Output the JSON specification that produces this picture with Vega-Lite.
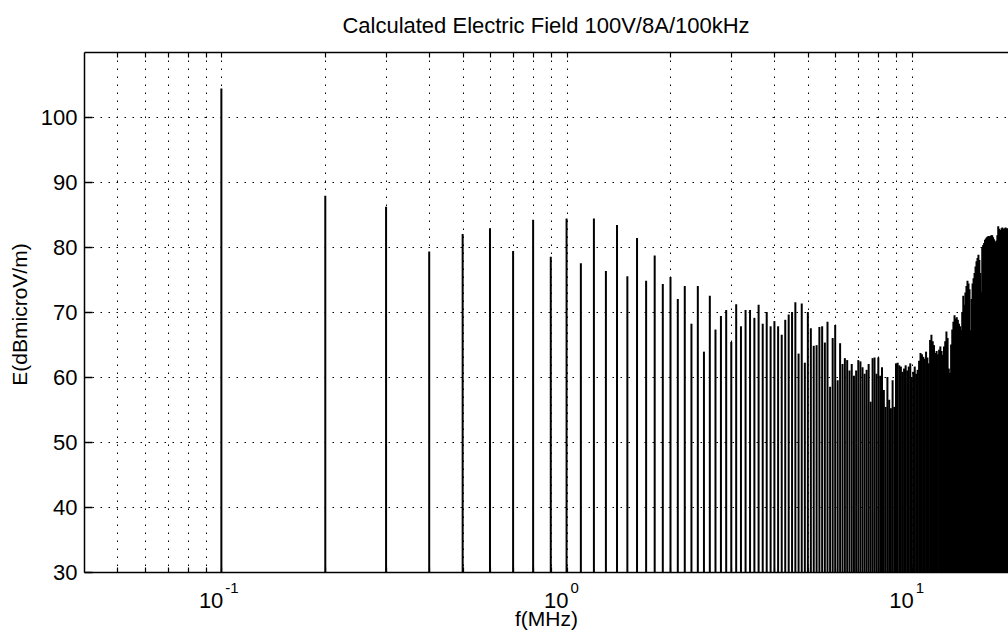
{
  "$schema": "https://vega.github.io/schema/vega-lite/v6.json",
  "width": 924,
  "height": 520,
  "autosize": {"type": "none"},
  "padding": {"left": 84, "top": 52, "right": 0, "bottom": 62},
  "background": "white",
  "config": {"view": {"stroke": null}, "font": "Liberation Sans"},
  "title": {"text": "Calculated Electric Field 100V/8A/100kHz", "fontSize": 22, "font": "Liberation Sans", "fontWeight": "normal", "color": "black", "baseline": "alphabetic", "offset": 20, "dy": 24, "anchor": "middle", "frame": "group"},
  "resolve": {"axis": {"x": "independent", "y": "independent"}},
  "layer": [
    {
      "data": {"values": [
        {"f":0.1,"E":104.4},{"f":0.2,"E":87.9},{"f":0.3,"E":86.2},{"f":0.4,"E":79.3},{"f":0.5,"E":82.0},
        {"f":0.6,"E":82.9},{"f":0.7,"E":79.4},{"f":0.8,"E":84.2},{"f":0.9,"E":78.5},{"f":1.0,"E":84.4},
        {"f":1.1,"E":77.5},{"f":1.2,"E":84.4},{"f":1.3,"E":76.3},{"f":1.4,"E":83.4},{"f":1.5,"E":75.5},
        {"f":1.6,"E":81.4},{"f":1.7,"E":74.8},{"f":1.8,"E":78.7},{"f":1.9,"E":74.3},{"f":2.0,"E":75.4},
        {"f":2.1,"E":72.0},{"f":2.2,"E":74.0},{"f":2.3,"E":68.2},{"f":2.4,"E":74.0},{"f":2.5,"E":63.9},
        {"f":2.6,"E":72.5},{"f":2.7,"E":67.3},{"f":2.8,"E":69.4},{"f":2.9,"E":70.3},{"f":3.0,"E":65.4},
        {"f":3.1,"E":71.2},{"f":3.2,"E":67.8},{"f":3.3,"E":70.3},{"f":3.4,"E":70.3},{"f":3.5,"E":69.1},
        {"f":3.6,"E":71.1},{"f":3.7,"E":68.2},{"f":3.8,"E":70.0},{"f":3.9,"E":67.8},{"f":4.0,"E":68.6},
        {"f":4.1,"E":67.8},{"f":4.2,"E":66.5},{"f":4.3,"E":68.8},{"f":4.4,"E":69.6},{"f":4.5,"E":70.0},
        {"f":4.6,"E":71.5},{"f":4.7,"E":63.6},{"f":4.8,"E":71.3},{"f":4.9,"E":62.2},{"f":5.0,"E":70.0},
        {"f":5.1,"E":67.5},{"f":5.2,"E":64.8},{"f":5.3,"E":64.9},{"f":5.4,"E":67.7},{"f":5.5,"E":67.8},
        {"f":5.6,"E":65.3},{"f":5.7,"E":68.5},{"f":5.8,"E":58.5},{"f":5.9,"E":66.0},{"f":6.0,"E":68.0},
        {"f":6.1,"E":59.5},{"f":6.2,"E":65.2},{"f":6.3,"E":62.0},{"f":6.4,"E":62.9},{"f":6.5,"E":62.6},
        {"f":6.6,"E":61.0},{"f":6.7,"E":62.0},{"f":6.8,"E":60.2},{"f":6.9,"E":61.0},{"f":7.0,"E":62.6},
        {"f":7.1,"E":62.4},{"f":7.2,"E":61.5},{"f":7.3,"E":60.5},{"f":7.4,"E":61.1},{"f":7.5,"E":62.0},
        {"f":7.6,"E":56.2},{"f":7.7,"E":62.9},{"f":7.8,"E":63.0},{"f":7.9,"E":60.5},{"f":8.0,"E":63.0},
        {"f":8.1,"E":60.2},{"f":8.2,"E":61.5},{"f":8.3,"E":58.0},{"f":8.4,"E":55.4},{"f":8.5,"E":60.0},
        {"f":8.6,"E":56.5},{"f":8.7,"E":55.2},{"f":8.8,"E":59.5},{"f":8.9,"E":55.4},{"f":9.0,"E":62.1},
        {"f":9.1,"E":62.2},{"f":9.2,"E":61.8},{"f":9.3,"E":61.6},{"f":9.4,"E":60.8},{"f":9.5,"E":61.3},
        {"f":9.6,"E":61.8},{"f":9.7,"E":61.0},{"f":9.8,"E":61.6},{"f":9.9,"E":62.1},{"f":10.0,"E":60.0},
        {"f":10.1,"E":60.8},{"f":10.2,"E":61.6},{"f":10.3,"E":60.5},{"f":10.4,"E":61.1},{"f":10.5,"E":62.5},
        {"f":10.6,"E":63.7},{"f":10.7,"E":63.5},{"f":10.8,"E":63.1},{"f":10.9,"E":62.8},{"f":11.0,"E":63.9},
        {"f":11.1,"E":63.0},{"f":11.2,"E":62.1},{"f":11.3,"E":65.7},{"f":11.4,"E":66.5},{"f":11.5,"E":65.5},
        {"f":11.6,"E":64.9},{"f":11.7,"E":63.7},{"f":11.8,"E":64.0},{"f":11.9,"E":63.5},{"f":12.0,"E":64.2},
        {"f":12.1,"E":64.7},{"f":12.2,"E":64.0},{"f":12.3,"E":63.4},{"f":12.4,"E":64.7},{"f":12.5,"E":65.5},
        {"f":12.6,"E":67.0},{"f":12.7,"E":66.0},{"f":12.8,"E":61.3},{"f":12.9,"E":60.6},{"f":13.0,"E":65.0},
        {"f":13.1,"E":67.3},{"f":13.2,"E":68.5},{"f":13.3,"E":69.5},{"f":13.4,"E":69.0},{"f":13.5,"E":69.2},
        {"f":13.6,"E":68.8},{"f":13.7,"E":68.2},{"f":13.8,"E":67.8},{"f":13.9,"E":67.2},{"f":14.0,"E":70.0},
        {"f":14.1,"E":72.5},{"f":14.2,"E":71.1},{"f":14.3,"E":73.0},{"f":14.4,"E":74.0},{"f":14.5,"E":74.8},
        {"f":14.6,"E":74.4},{"f":14.7,"E":73.5},{"f":14.8,"E":67.2},{"f":14.9,"E":72.0},{"f":15.0,"E":74.4},
        {"f":15.1,"E":75.2},{"f":15.2,"E":76.0},{"f":15.3,"E":77.0},{"f":15.4,"E":77.8},{"f":15.5,"E":78.3},
        {"f":15.6,"E":78.8},{"f":15.7,"E":78.0},{"f":15.8,"E":76.0},{"f":15.9,"E":73.1},{"f":16.0,"E":80.0},
        {"f":16.1,"E":80.3},{"f":16.2,"E":80.6},{"f":16.3,"E":81.1},{"f":16.4,"E":81.3},{"f":16.5,"E":81.5},
        {"f":16.6,"E":81.6},{"f":16.7,"E":81.7},{"f":16.8,"E":81.6},{"f":16.9,"E":81.7},{"f":17.0,"E":81.8},
        {"f":17.1,"E":81.8},{"f":17.2,"E":81.5},{"f":17.3,"E":81.2},{"f":17.4,"E":80.9},{"f":17.5,"E":80.6},
        {"f":17.6,"E":81.0},{"f":17.7,"E":81.8},{"f":17.8,"E":83.2},{"f":17.9,"E":82.8},{"f":18.0,"E":82.5},
        {"f":18.1,"E":82.6},{"f":18.2,"E":82.9},{"f":18.3,"E":83.0},{"f":18.4,"E":82.8},{"f":18.5,"E":82.7},
        {"f":18.6,"E":82.9},{"f":18.7,"E":83.0},{"f":18.8,"E":82.8},{"f":18.9,"E":82.9},{"f":19.0,"E":82.7}
      ]},
      "mark": {"type": "rule", "color": "black", "strokeWidth": 2, "clip": true},
      "encoding": {
        "x": {
          "field": "f", "type": "quantitative",
          "scale": {"type": "log", "domain": [0.04, 19], "nice": false},
          "axis": {
            "orient": "bottom",
            "values": [0.05,0.06,0.07,0.08,0.09,0.1,0.2,0.3,0.4,0.5,0.6,0.7,0.8,0.9,1,2,3,4,5,6,7,8,9,10],
            "labels": false,
            "grid": true, "gridColor": "black", "gridDash": [1.5, 6.5], "gridWidth": 1, "gridOpacity": 1,
            "domain": true, "domainColor": "black", "domainWidth": 1.5,
            "ticks": true, "tickColor": "black", "tickWidth": 1.2, "tickSize": -5,
            "title": "f(MHz)", "titleFont": "Liberation Sans", "titleFontSize": 21, "titleFontWeight": "normal",
            "titleColor": "black", "titleBaseline": "alphabetic", "titleY": 53
          }
        },
        "y": {
          "field": "E", "type": "quantitative",
          "scale": {"domain": [30, 110], "nice": false, "zero": false},
          "axis": {
            "orient": "left",
            "values": [30,40,50,60,70,80,90,100],
            "grid": true, "gridColor": "black", "gridDash": [1.5, 6.5], "gridWidth": 1, "gridOpacity": 1,
            "domain": true, "domainColor": "black", "domainWidth": 1.5,
            "ticks": true, "tickColor": "black", "tickWidth": 1.5, "tickSize": -8,
            "labelFont": "Liberation Sans", "labelFontSize": 22, "labelColor": "black", "labelPadding": 15,
            "title": "E(dBmicroV/m)", "titleFont": "Liberation Sans", "titleFontSize": 21, "titleFontWeight": "normal",
            "titleColor": "black", "titleX": -64, "titleY": 262, "titleAngle": -90, "titleAlign": "center", "titleBaseline": "middle"
          }
        },
        "y2": {"datum": 30}
      }
    },
    {
      "data": {"values": [{"f":0.1,"b":"10","e":"-1"},{"f":1,"b":"10","e":"0"},{"f":10,"b":"10","e":"1"}]},
      "mark": {"type": "text", "align": "right", "baseline": "alphabetic", "dx": 2, "dy": 36, "fontSize": 22, "font": "Liberation Sans", "color": "black"},
      "encoding": {
        "x": {
          "field": "f", "type": "quantitative",
          "axis": {
            "orient": "top",
            "values": [0.05,0.06,0.07,0.08,0.09,0.1,0.2,0.3,0.4,0.5,0.6,0.7,0.8,0.9,1,2,3,4,5,6,7,8,9,10],
            "labels": false, "grid": false,
            "domain": true, "domainColor": "black", "domainWidth": 1.5,
            "ticks": true, "tickColor": "black", "tickWidth": 1.2, "tickSize": -5,
            "title": null
          }
        },
        "y": {"datum": 30, "type": "quantitative", "axis": null},
        "text": {"field": "b"}
      }
    },
    {
      "data": {"values": [{"f":0.1,"b":"10","e":"-1"},{"f":1,"b":"10","e":"0"},{"f":10,"b":"10","e":"1"}]},
      "mark": {"type": "text", "align": "left", "baseline": "alphabetic", "dx": 4, "dy": 21, "fontSize": 15, "font": "Liberation Sans", "color": "black"},
      "encoding": {
        "x": {"field": "f", "type": "quantitative", "axis": null},
        "y": {"datum": 30, "type": "quantitative", "axis": null},
        "text": {"field": "e"}
      }
    }
  ]
}
